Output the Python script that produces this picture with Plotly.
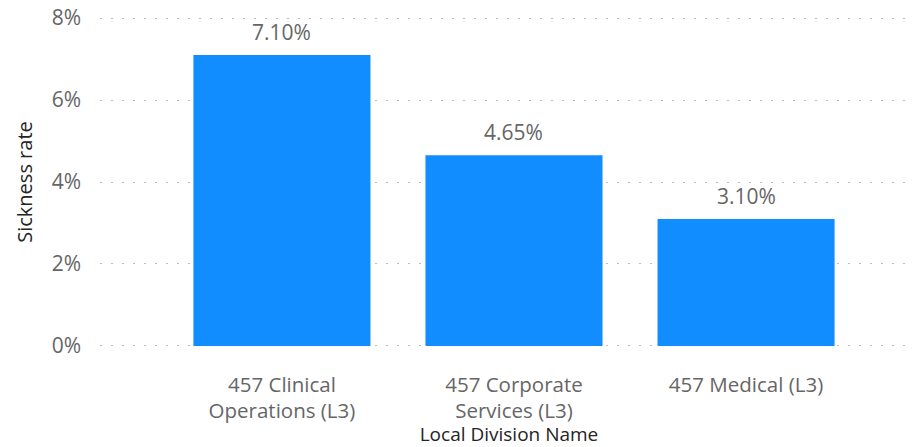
import plotly.graph_objects as go

categories = ["457 Clinical<br>Operations (L3)", "457 Corporate<br>Services (L3)", "457 Medical (L3)"]
values = [7.10, 4.65, 3.10]
labels = [f"{v:.2f}%" for v in values]
tick_vals = [0, 2, 4, 6, 8]
tick_text = ["0%", "2%", "4%", "6%", "8%"]

FONT = "Segoe UI, Open Sans, sans-serif"

fig = go.Figure(go.Bar(
    x=categories,
    y=values,
    marker=dict(color="#118DFF", line=dict(width=0)),
    hoverinfo="x+y",
))

for c, v, t in zip(categories, values, labels):
    fig.add_annotation(
        x=c, y=v, text=t, showarrow=False,
        yanchor="bottom", yshift=7,
        font=dict(family=FONT, size=21, color="#666666"),
    )

# page body has an 8px margin, so the figure is sized to fill the rest of the window
fig.update_layout(
    width=910, height=439,
    margin=dict(l=92, r=0, t=8, b=99),
    paper_bgcolor="white", plot_bgcolor="white",
    bargap=0.237,
    showlegend=False,
    font=dict(family=FONT),
)
fig.update_xaxes(
    range=[-0.784, 2.741],
    automargin=False,
    showgrid=False, showline=False, zeroline=False,
    tickfont=dict(family=FONT, size=20.5, color="#666666"),
    ticks="", ticklabelstandoff=22,
    title=dict(text="Local Division Name", font=dict(family=FONT, size=19, color="#252423"), standoff=7),
)
fig.update_yaxes(
    range=[-0.05, 8.05],
    automargin=False,
    tickvals=tick_vals, ticktext=tick_text,
    ticklabeloverflow="allow",
    showgrid=True, gridcolor="#BDBDBD", griddash="2px,9px", gridwidth=1,
    zeroline=False, showline=False,
    tickfont=dict(family=FONT, size=21, color="#666666"),
    ticks="", ticklabelstandoff=18,
    title=dict(text="Sickness rate", font=dict(family=FONT, size=20, color="#252423"), standoff=13),
)

fig.write_html("out.html")
